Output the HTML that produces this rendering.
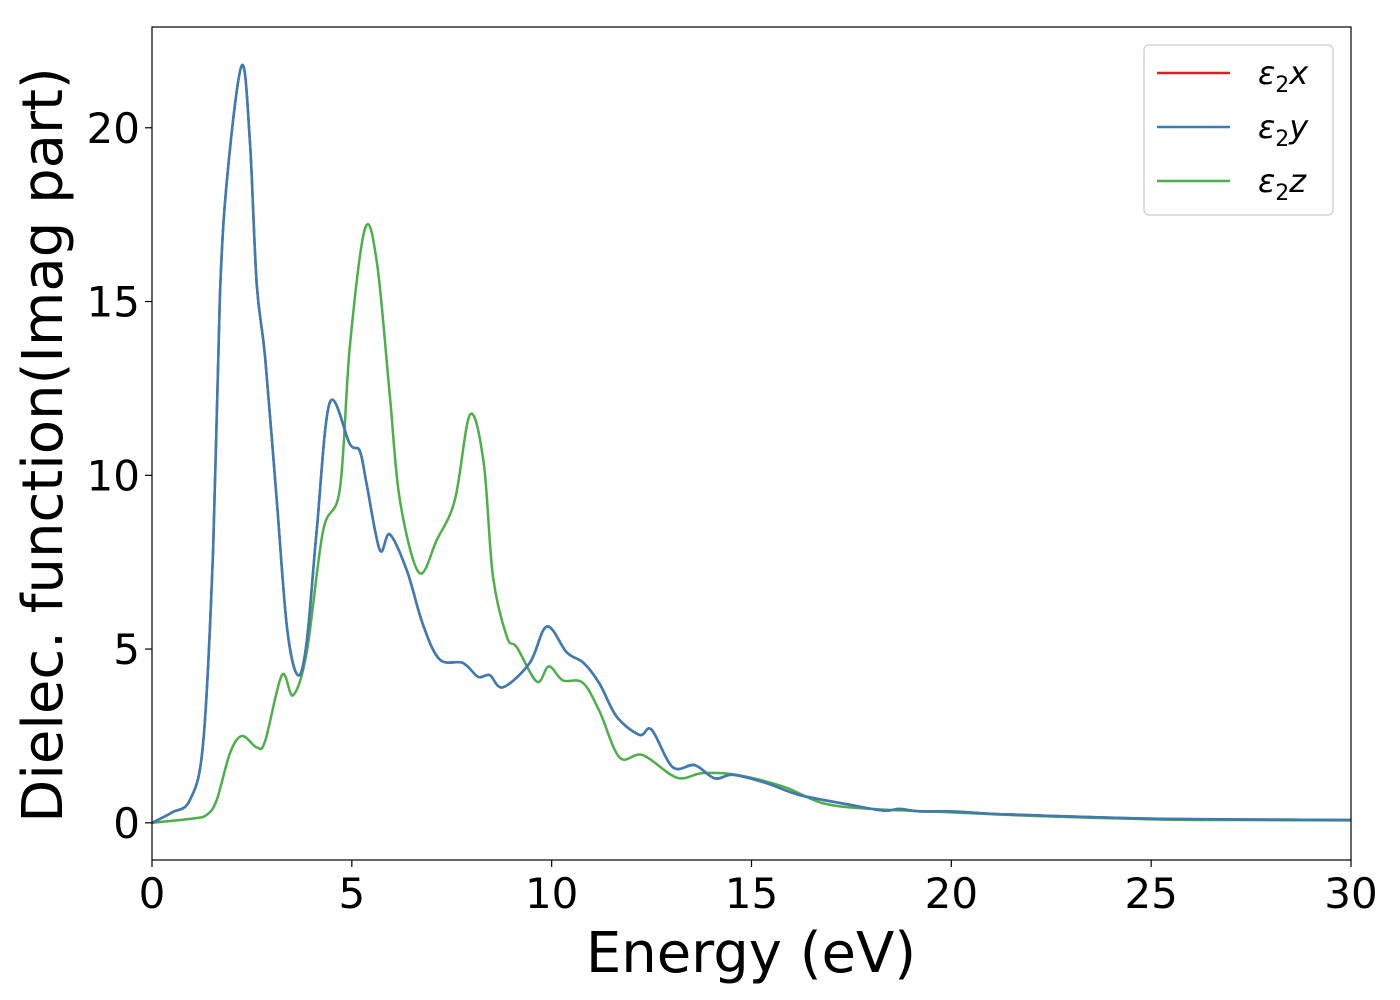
<!DOCTYPE html>
<html><head><meta charset="utf-8"><style>
html,body{margin:0;padding:0;background:#fff;overflow:hidden;}
svg{display:block;}
svg text{font-family:"DejaVu Sans","Liberation Sans",sans-serif;fill:#000;}
</style></head><body>
<svg id="chart" width="1400" height="1000" xmlns="http://www.w3.org/2000/svg">
<g id="plot"></g>
<text x="751" y="972" font-size="56" text-anchor="middle">Energy (eV)</text>
<text transform="translate(62,445) rotate(-90)" font-size="56" text-anchor="middle">Dielec. function(Imag part)</text>
<g>
<rect x="1144" y="45" width="189" height="170" rx="5" fill="#fff" stroke="#ccc" stroke-width="1.2"/>
<line x1="1157" y1="73" x2="1230" y2="73" stroke="#e41a1c" stroke-width="2.5"/>
<line x1="1157" y1="127" x2="1230" y2="127" stroke="#377eb8" stroke-width="2.5"/>
<line x1="1157" y1="181" x2="1230" y2="181" stroke="#4daf4a" stroke-width="2.5"/>
<text x="1258" y="84" font-size="32" font-style="italic">ε<tspan font-size="22" font-style="normal" dy="8">2</tspan><tspan dy="-8">x</tspan></text>
<text x="1258" y="138" font-size="32" font-style="italic">ε<tspan font-size="22" font-style="normal" dy="8">2</tspan><tspan dy="-8">y</tspan></text>
<text x="1258" y="192" font-size="32" font-style="italic">ε<tspan font-size="22" font-style="normal" dy="8">2</tspan><tspan dy="-8">z</tspan></text>
</g>
</svg>
<script>
const xTicks=[0,5,10,15,20,25,30];
const yTicks=[0,5,10,15,20];
const energyXY=[0,0.5,0.95,1.28,1.53,1.7,1.9,2.25,2.45,2.62,2.83,3.12,3.38,3.65,3.87,4.12,4.45,4.95,5.2,5.37,5.7,5.95,6.38,6.78,7.2,7.78,8.16,8.45,8.78,9.45,9.88,10.38,10.8,11.2,11.63,12.2,12.5,13.03,13.58,14.08,14.55,15.38,16.2,17.46,18.3,18.7,19.2,20,21,22,23,25,27,30];
const eps2x=[0,0.3,0.66,2.3,7.9,15.2,18.8,21.8,19.6,15.5,13.4,9.3,5.6,4.25,5.2,8.4,12.1,10.9,10.7,9.75,7.85,8.3,7.25,5.7,4.7,4.6,4.2,4.25,3.9,4.6,5.65,4.9,4.6,4.0,3.05,2.53,2.68,1.6,1.66,1.28,1.38,1.14,0.8,0.52,0.35,0.4,0.33,0.33,0.26,0.22,0.18,0.12,0.1,0.08];
const eps2y=eps2x.slice();
const energyZ=[0,1.0,1.37,1.62,1.95,2.25,2.62,2.83,3.25,3.53,3.87,4.28,4.7,4.95,5.33,5.63,5.95,6.2,6.68,7.13,7.58,7.96,8.3,8.53,8.88,9.13,9.63,9.93,10.28,10.78,11.2,11.7,12.28,13.13,13.78,14.63,15.8,16.8,18,20,22,25,27,30];
const eps2z=[0,0.12,0.23,0.66,2.0,2.5,2.17,2.35,4.25,3.67,4.9,8.4,9.6,13.7,17.1,16.1,12.3,9.3,7.2,8.15,9.3,11.75,10.35,7.1,5.35,5.05,4.06,4.5,4.1,4.03,3.2,1.88,1.95,1.3,1.43,1.38,1.04,0.56,0.4,0.3,0.2,0.1,0.08,0.07];

const L=152,R=1351,T=27,B=860;
const xMin=0,xMax=30,yMin=-1.07,yMax=22.9;
const sx=v=>L+(v-xMin)/(xMax-xMin)*(R-L);
const sy=v=>B-(v-yMin)/(yMax-yMin)*(B-T);
const NS="http://www.w3.org/2000/svg";
const g=document.getElementById('plot');
function mk(tag,attrs,parent){const e=document.createElementNS(NS,tag);for(const k in attrs)e.setAttribute(k,attrs[k]);(parent||g).appendChild(e);return e;}
function smooth(xs,ys){
  const p=xs.map((x,i)=>[sx(x),sy(ys[i])]);
  let d=`M${p[0][0]},${p[0][1]}`;
  for(let i=0;i<p.length-1;i++){
    const p0=p[Math.max(0,i-1)],p1=p[i],p2=p[i+1],p3=p[Math.min(p.length-1,i+2)];
    const c1=[p1[0]+(p2[0]-p0[0])/6,p1[1]+(p2[1]-p0[1])/6];
    const c2=[p2[0]-(p3[0]-p1[0])/6,p2[1]-(p3[1]-p1[1])/6];
    d+=` C${c1[0]},${c1[1]} ${c2[0]},${c2[1]} ${p2[0]},${p2[1]}`;
  }
  return d;
}
const defs=mk('defs',{});
const cp=mk('clipPath',{id:'clip'},defs);
mk('rect',{x:L,y:T,width:R-L,height:B-T},cp);
const series=[[energyZ,eps2z,'#4daf4a','eps2z-line'],[energyXY,eps2x,'#e41a1c','eps2x-line'],[energyXY,eps2y,'#377eb8','eps2y-line']];
series.forEach(s=>{
  const p=mk('path',{d:smooth(s[0],s[1]),fill:'none',stroke:s[2],'stroke-width':2.5,'clip-path':'url(#clip)'});
  
  
});
const frame=mk('rect',{x:L,y:T,width:R-L,height:B-T,fill:'none',stroke:'#000','stroke-width':1.2});


xTicks.forEach(t=>{
  const x=sx(t);
  mk('line',{x1:x,y1:B,x2:x,y2:B+7,stroke:'#000','stroke-width':1.2});
  const tx=mk('text',{x:x,y:B+48,'font-size':42,'text-anchor':'middle'});
  tx.textContent=t;
  
  
});
yTicks.forEach(t=>{
  const y=sy(t);
  mk('line',{x1:L-7,y1:y,x2:L,y2:y,stroke:'#000','stroke-width':1.2});
  const tx=mk('text',{x:L-12,y:y+15,'font-size':42,'text-anchor':'end'});
  tx.textContent=t;
  
  
});
</script>
</body></html>
